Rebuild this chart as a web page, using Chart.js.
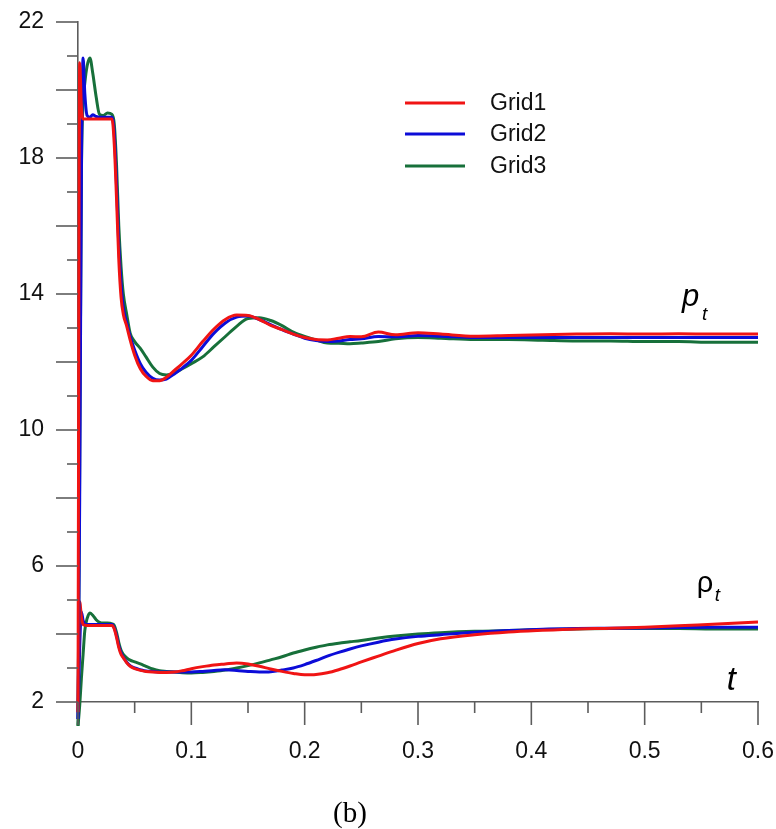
<!DOCTYPE html>
<html>
<head>
<meta charset="utf-8">
<script src="https://cdn.jsdelivr.net/npm/chart.js@4.4.1/dist/chart.umd.min.js"></script>
<style>
  html, body { margin: 0; padding: 0; background: #ffffff; }
  #wrap { width: 776px; height: 829px; position: relative; }
</style>
</head>
<body>
<div id="wrap"><canvas id="chart" width="776" height="829"></canvas></div>
<script>
// Sample times (s) shared by every series
const time = [
  0, 0.0015, 0.003, 0.0045, 0.006, 0.008, 0.0105, 0.013, 0.016, 0.019,
  0.022, 0.026, 0.030, 0.032, 0.034, 0.036, 0.038, 0.040, 0.043, 0.046,
  0.050, 0.055, 0.060, 0.066, 0.072, 0.078, 0.085, 0.092, 0.100, 0.110,
  0.120, 0.130, 0.140, 0.150, 0.160, 0.170, 0.180, 0.190, 0.200, 0.210,
  0.220, 0.230, 0.240, 0.250, 0.265, 0.280, 0.300, 0.320, 0.350, 0.380,
  0.410, 0.440, 0.470, 0.500, 0.530, 0.560, 0.600
];

// Total pressure p_t
const pGrid1 = [
  1.7, 20.8, 19.5, 19.15, 19.15, 19.15, 19.15, 19.15, 19.15, 19.15,
  19.15, 19.15, 19.15, 18.4, 16.8, 15.0, 13.9, 13.4, 13.05, 12.65,
  12.2, 11.8, 11.58, 11.45, 11.45, 11.55, 11.75, 11.95, 12.2, 12.6,
  12.97, 13.25, 13.38, 13.37, 13.25, 13.08, 12.95, 12.82, 12.72, 12.66,
  12.65, 12.7, 12.75, 12.74, 12.88, 12.8, 12.86, 12.82, 12.76, 12.78,
  12.8, 12.82, 12.83, 12.82, 12.83, 12.82, 12.82
];
const pGrid2 = [
  1.5, 8.0, 17.5, 20.94, 19.9, 19.25, 19.2, 19.27, 19.22, 19.2,
  19.2, 19.2, 19.2, 18.7, 17.2, 15.4, 14.3, 13.6, 13.15, 12.75,
  12.35, 11.95, 11.7, 11.52, 11.47, 11.5, 11.65, 11.82, 12.05, 12.45,
  12.85, 13.15, 13.32, 13.35, 13.25, 13.1, 12.95, 12.82, 12.7, 12.63,
  12.6, 12.62, 12.66, 12.68, 12.75, 12.74, 12.78, 12.76, 12.72, 12.72,
  12.72, 12.72, 12.72, 12.72, 12.72, 12.72, 12.72
];
const pGrid3 = [
  1.3, 9.0, 17.5, 19.6, 20.2, 20.7, 20.94, 20.5, 19.8, 19.28,
  19.25, 19.32, 19.28, 19.0, 17.8, 16.0, 14.8, 14.0, 13.4, 12.85,
  12.6, 12.4, 12.15, 11.85, 11.66, 11.62, 11.68, 11.8, 11.95, 12.15,
  12.45, 12.75, 13.05, 13.28, 13.3, 13.22, 13.07, 12.88, 12.75, 12.65,
  12.56, 12.55, 12.54, 12.56, 12.6, 12.68, 12.72, 12.7, 12.66, 12.66,
  12.64, 12.62, 12.62, 12.6, 12.6, 12.58, 12.58
];

// Total density rho_t
const rhoGrid1 = [
  1.7, 4.95, 4.5, 4.28, 4.26, 4.25, 4.25, 4.25, 4.25, 4.25,
  4.25, 4.25, 4.25, 4.15, 3.9, 3.6, 3.4, 3.3, 3.15, 3.05,
  2.98, 2.93, 2.9, 2.88, 2.87, 2.87, 2.88, 2.92, 2.98, 3.04,
  3.09, 3.12, 3.15, 3.12, 3.05, 2.97, 2.9, 2.84, 2.8, 2.81,
  2.86, 2.95, 3.06, 3.18, 3.35, 3.52, 3.72, 3.86, 3.98, 4.06,
  4.11, 4.15, 4.17, 4.2, 4.24, 4.29, 4.35
];
const rhoGrid2 = [
  1.5, 3.6, 4.65, 4.4, 4.3, 4.28, 4.28, 4.28, 4.28, 4.28,
  4.28, 4.28, 4.28, 4.18, 3.95, 3.65, 3.45, 3.32, 3.17, 3.07,
  3.0, 2.95, 2.91, 2.9, 2.88, 2.88, 2.88, 2.88, 2.88, 2.9,
  2.93, 2.95, 2.93, 2.9, 2.88, 2.89, 2.94, 3.0, 3.1, 3.22,
  3.35, 3.46, 3.56, 3.65, 3.76, 3.85, 3.93, 3.98, 4.05, 4.1,
  4.14, 4.16, 4.17, 4.18, 4.19, 4.2, 4.2
];
const rhoGrid3 = [
  1.3, 1.9, 2.7, 3.4, 4.1, 4.45, 4.62, 4.55, 4.42, 4.34,
  4.32, 4.32, 4.3, 4.25, 4.05, 3.75, 3.52, 3.4, 3.3, 3.23,
  3.18, 3.12, 3.05, 2.97, 2.92, 2.9, 2.88, 2.86, 2.85, 2.87,
  2.9, 2.94, 3.0, 3.07, 3.15, 3.24, 3.33, 3.44, 3.53, 3.61,
  3.68, 3.73, 3.77, 3.81, 3.88, 3.94, 4.0, 4.04, 4.08, 4.1,
  4.13, 4.15, 4.16, 4.16, 4.16, 4.15, 4.15
];

// Axis tick labels
const xTickLabels = ['0', '0.1', '0.2', '0.3', '0.4', '0.5', '0.6'];
const yTickLabels = ['2', '6', '10', '14', '18', '22'];

const gridNames = ['Grid1', 'Grid2', 'Grid3'];
const gridColors = ['#f01414', '#0c0cd8', '#17703a'];

const FONT = "'Liberation Sans', Arial, sans-serif";
const AXIS_COLOR = '#5c5c5c';

function series(values, i, showInLegend) {
  return {
    label: gridNames[i],
    data: time.map((t, k) => ({ x: t, y: values[k] })),
    borderColor: gridColors[i],
    backgroundColor: gridColors[i],
    borderWidth: 3,
    pointRadius: 0,
    cubicInterpolationMode: 'monotone',
    clip: false,
    inLegend: showInLegend
  };
}

// Tick marks, legend, curve names and panel caption
const decorations = {
  id: 'decorations',
  afterDraw(chart) {
    const { ctx, scales: { x, y } } = chart;
    ctx.save();
    ctx.strokeStyle = AXIS_COLOR;
    ctx.lineWidth = 1.6;
    // y ticks: long every 2, short every 1, pointing outward
    for (let v = 2; v <= 22; v++) {
      const py = y.getPixelForValue(v);
      const len = v % 2 === 0 ? 22 : 11;
      ctx.beginPath();
      ctx.moveTo(x.left - len, py);
      ctx.lineTo(x.left, py);
      ctx.stroke();
    }
    // x ticks: long every 0.1, short every 0.05
    for (let i = 0; i <= 12; i++) {
      const px = x.getPixelForValue(i * 0.05);
      const len = i % 2 === 0 ? 23 : 11;
      ctx.beginPath();
      ctx.moveTo(px, y.bottom);
      ctx.lineTo(px, y.bottom + len);
      ctx.stroke();
    }

    // legend
    const lx = 405, ly = [103, 134, 166];
    ctx.font = '23px ' + FONT;
    ctx.textBaseline = 'middle';
    ctx.textAlign = 'left';
    chart.data.datasets.filter(d => d.inLegend).forEach((d, i) => {
      ctx.strokeStyle = d.borderColor;
      ctx.lineWidth = 3;
      ctx.beginPath();
      ctx.moveTo(lx, ly[i]);
      ctx.lineTo(lx + 60, ly[i]);
      ctx.stroke();
      ctx.fillStyle = '#111';
      ctx.fillText(d.label, lx + 85, ly[i] + 1);
    });

    // curve names
    ctx.fillStyle = '#000';
    ctx.textBaseline = 'alphabetic';
    let px = x.getPixelForValue(0.533), py = y.getPixelForValue(13.65);
    ctx.font = 'italic 31px ' + FONT;
    ctx.fillText('p', px, py);
    ctx.font = 'italic 19px ' + FONT;
    ctx.fillText('t', px + 20, py + 14);

    px = x.getPixelForValue(0.546); py = y.getPixelForValue(5.25);
    ctx.font = '29px ' + FONT;
    ctx.fillText('\u03C1', px, py);
    ctx.font = 'italic 19px ' + FONT;
    ctx.fillText('t', px + 18, py + 9);

    px = x.getPixelForValue(0.5725); py = y.getPixelForValue(2.35);
    ctx.font = 'italic 33px ' + FONT;
    ctx.fillText('t', px, py);

    // panel caption
    ctx.font = "29px 'Liberation Serif', 'Times New Roman', serif";
    ctx.textAlign = 'center';
    ctx.fillText('(b)', x.getPixelForValue(0.24), chart.height - 7);
    ctx.restore();
  }
};

new Chart(document.getElementById('chart'), {
  type: 'line',
  data: {
    datasets: [
      series(pGrid1, 0, true),
      series(pGrid2, 1, true),
      series(pGrid3, 2, true),
      series(rhoGrid1, 0, false),
      series(rhoGrid2, 1, false),
      series(rhoGrid3, 2, false)
    ]
  },
  options: {
    responsive: false,
    animation: false,
    devicePixelRatio: 1,
    layout: { padding: { left: 0, top: 22, right: 18, bottom: 0 } },
    plugins: { legend: { display: false }, tooltip: { enabled: false } },
    scales: {
      x: {
        type: 'linear',
        min: 0,
        max: 0.6,
        afterFit(scale) {
          scale.height = 127;
          scale.paddingLeft = 0; scale.paddingRight = 0;
          scale.paddingTop = 0; scale.paddingBottom = 0;
        },
        border: { display: true, color: AXIS_COLOR, width: 1.6 },
        grid: { display: false, drawTicks: false },
        ticks: {
          stepSize: 0.1,
          autoSkip: false,
          maxRotation: 0,
          padding: 36,
          color: '#111',
          font: { family: FONT, size: 23 },
          callback(v) {
            const i = Math.round(v * 10);
            return Math.abs(v * 10 - i) < 1e-6 ? xTickLabels[i] : '';
          }
        }
      },
      y: {
        type: 'linear',
        min: 2,
        max: 22,
        afterFit(scale) {
          scale.width = 78;
          scale.paddingLeft = 0; scale.paddingRight = 0;
          scale.paddingTop = 0; scale.paddingBottom = 0;
        },
        border: { display: true, color: AXIS_COLOR, width: 1.6 },
        grid: { display: false, drawTicks: false },
        ticks: {
          stepSize: 4,
          autoSkip: false,
          padding: 34,
          color: '#111',
          font: { family: FONT, size: 23 },
          callback(v) {
            const i = Math.round((v - 2) / 4);
            return Math.abs((v - 2) / 4 - i) < 1e-6 ? yTickLabels[i] : '';
          }
        }
      }
    }
  },
  plugins: [decorations]
});
</script>
</body>
</html>
